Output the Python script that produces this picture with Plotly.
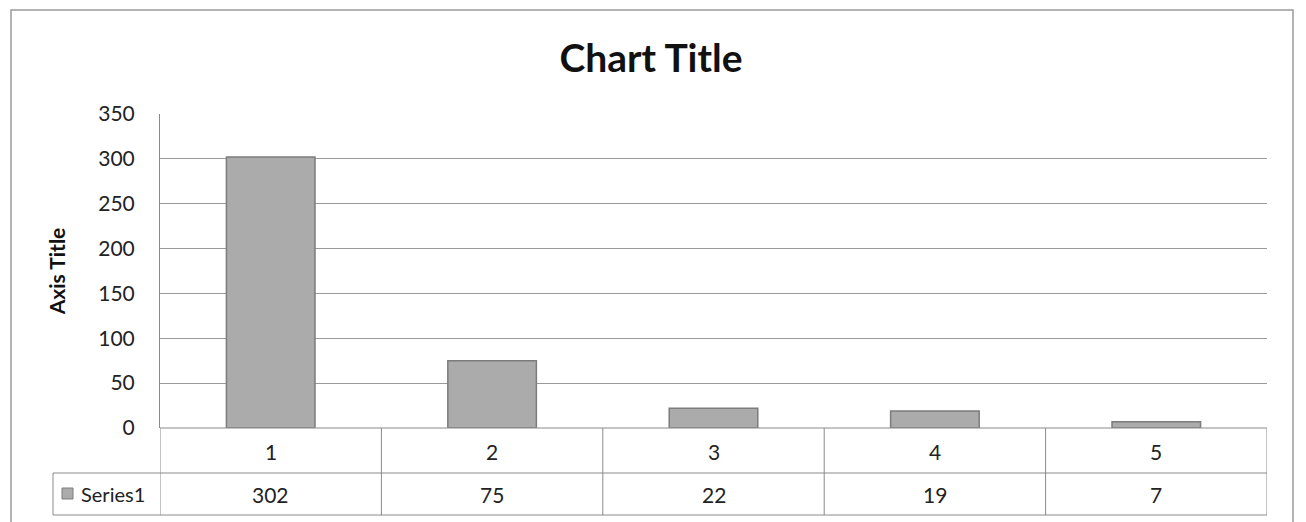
import plotly.graph_objects as go

categories = ["1", "2", "3", "4", "5"]
values = [302, 75, 22, 19, 7]
series_name = "Series1"
y_ticks = [0, 50, 100, 150, 200, 250, 300, 350]
chart_title = "Chart Title"
axis_title = "Axis Title"

OFF = 8  # browser body margin
W, H = 1306 - OFF, 522 - OFF
L, R, T, B = 160 - OFF, 1306 - 1267, 114 - OFF, 522 - 428
plot_w = W - L - R
plot_h = H - T - B

def py(pix):
    return (428 - pix) / plot_h

def px(pix):
    return (pix - 160) / plot_w

FONT = "Lato"
TXT = "#222"
xs = list(range(1, len(categories) + 1))

fig = go.Figure()
fig.add_trace(go.Bar(
    x=xs, y=values, name=series_name, width=0.4,
    marker=dict(color="#ababab", line=dict(color="#7c7c7c", width=1.5)),
    showlegend=False,
))

line_col = "#8a8a8a"
shapes = []
for yy in (473, 515):
    shapes.append(dict(type="line", xref="paper", yref="paper",
                       x0=px(53), x1=1, y0=py(yy), y1=py(yy),
                       line=dict(color=line_col, width=1)))
shapes.append(dict(type="line", xref="paper", yref="paper",
                   x0=0, x1=1, y0=0, y1=0, line=dict(color=line_col, width=1)))
for i in range(len(categories) + 1):
    xb = 0.5 + i
    shapes.append(dict(type="line", xref="x", yref="paper",
                       x0=xb, x1=xb, y0=0, y1=py(515),
                       line=dict(color=line_col, width=1)))
shapes.append(dict(type="line", xref="paper", yref="paper",
                   x0=px(53), x1=px(53), y0=py(473), y1=py(515),
                   line=dict(color=line_col, width=1)))
shapes.append(dict(type="rect", xref="paper", yref="paper",
                   x0=px(11), x1=px(1293), y0=py(10), y1=py(540),
                   line=dict(color="#9a9a9a", width=1.5), fillcolor="rgba(0,0,0,0)"))
shapes.append(dict(type="rect", xref="paper", yref="paper",
                   x0=px(62), x1=px(73), y0=py(488), y1=py(499),
                   line=dict(color="#7c7c7c", width=1), fillcolor="#ababab"))

annotations = []
for x, c, v in zip(xs, categories, values):
    annotations.append(dict(x=x, y=py(451), xref="x", yref="paper", text=c,
                            xanchor="center", yanchor="middle",
                            showarrow=False, font=dict(family=FONT, size=21, color=TXT)))
    annotations.append(dict(x=x, y=py(494), xref="x", yref="paper", text=str(v),
                            xanchor="center", yanchor="middle",
                            showarrow=False, font=dict(family=FONT, size=21, color=TXT)))
annotations.append(dict(x=px(79), y=py(494), xref="paper", yref="paper", text=series_name,
                        xanchor="left", yanchor="middle", showarrow=False,
                        font=dict(family=FONT, size=20, color=TXT)))

fig.update_layout(
    width=W, height=H,
    margin=dict(l=L, r=R, t=T, b=B, autoexpand=False),
    paper_bgcolor="white", plot_bgcolor="white",
    title=dict(text="<b>" + chart_title + "</b>", xref="container", yref="container",
               x=(651 - OFF) / W, xanchor="center",
               y=1 - (58 - OFF) / H, yanchor="middle",
               font=dict(family=FONT, size=39, color="#111")),
    shapes=shapes, annotations=annotations,
    bargap=0.6,
)
fig.update_xaxes(range=[0.5, len(categories) + 0.5], showticklabels=False,
                 showgrid=False, zeroline=False, showline=False, ticks="")
fig.update_yaxes(range=[0, 350], tickvals=y_ticks, showgrid=True, gridcolor="#9a9a9a",
                 gridwidth=1, zeroline=False, showline=True, linecolor=line_col, linewidth=1,
                 ticks="", ticklabelstandoff=20,
                 tickfont=dict(family=FONT, size=21, color=TXT),
                 title=dict(text="<b>" + axis_title + "</b>", standoff=26,
                            font=dict(family=FONT, size=21, color="#111")))

fig.write_html("out.html")
